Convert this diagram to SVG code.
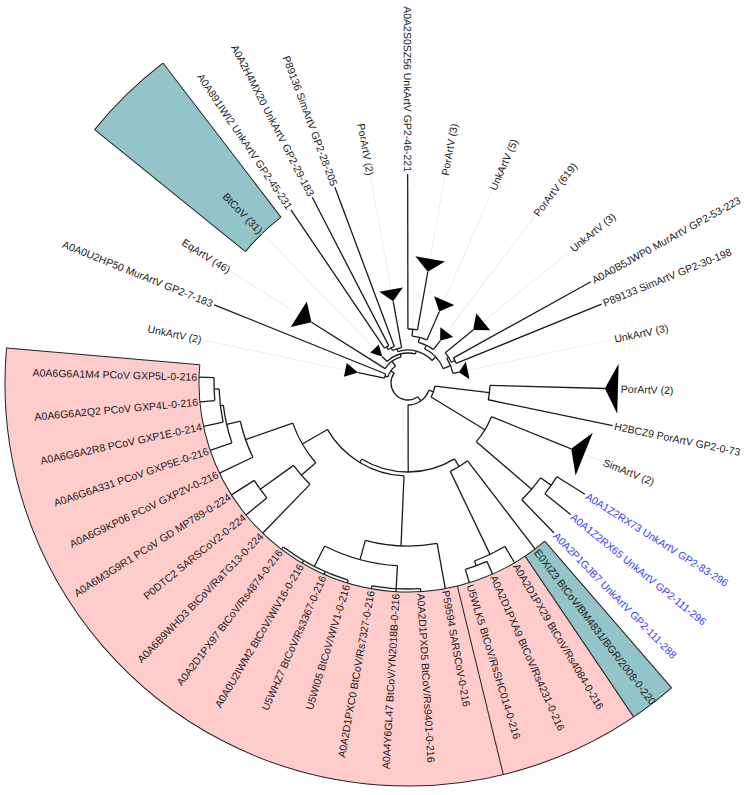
<svg xmlns="http://www.w3.org/2000/svg" width="752" height="795" viewBox="0 0 752 795">
<style>
.b{stroke:#1a1a1a;stroke-width:1.3;fill:none}
.o{stroke:#222;stroke-width:1;fill:none}
.gl{stroke:#eeeeee;stroke-width:1}
.t{font-family:"Liberation Sans",Arial,sans-serif;font-size:10.5px;fill:#1a1a1a}
.bl{fill:#3a3aff}
.tr{fill:#000}
.L{text-anchor:end}
</style>
<rect width="752" height="795" fill="#fff"/>
<g transform="translate(408,383) rotate(-1)">
<g id="regions" fill="none">
<circle r="306" stroke="#ffcccc" stroke-width="194" transform="rotate(77.32)" stroke-dasharray="580.37 3000"/>
<circle r="306" stroke="#ffcccc" stroke-width="194" transform="rotate(56.94)" stroke-dasharray="108.84 3000"/>
<circle r="306" stroke="#93c4c7" stroke-width="194" transform="rotate(50.15)" stroke-dasharray="36.26 3000"/>
<circle r="306" stroke="#93c4c7" stroke-width="194" transform="rotate(-140.04)" stroke-dasharray="72.58 3000"/>
<g class="o">
<circle r="209" transform="rotate(50.15)" stroke-dasharray="495.53 3000"/>
<circle r="403" transform="rotate(50.15)" stroke-dasharray="955.5 3000"/>
<line x1="209" x2="403" transform="rotate(185.996)"/>
<line x1="209" x2="403" transform="rotate(77.32)"/>
<line x1="209" x2="403" transform="rotate(56.94)"/>
<line x1="209" x2="403" transform="rotate(50.15)"/>
<circle r="209" transform="rotate(-140.04)" stroke-dasharray="49.57 3000"/>
<circle r="403" transform="rotate(-140.04)" stroke-dasharray="95.59 3000"/>
<line x1="209" x2="403" transform="rotate(-140.04)"/>
<line x1="209" x2="403" transform="rotate(-126.45)"/>
</g>
</g>
<g id="guides" class="gl">
<line x1="190" x2="209" transform="rotate(22.98)"/>
<line x1="61" x2="209" transform="rotate(-10.98)"/>
<line x1="97" x2="209" transform="rotate(-38.15)"/>
<line x1="64" x2="209" transform="rotate(-51.74)"/>
<line x1="90" x2="209" transform="rotate(-65.32)"/>
<line x1="126" x2="209" transform="rotate(-78.9)"/>
<line x1="95" x2="209" transform="rotate(-99.28)"/>
<line x1="48" x2="209" transform="rotate(-133.25)"/>
<line x1="129" x2="209" transform="rotate(-146.83)"/>
<line x1="64" x2="209" transform="rotate(-167.2)"/>
</g>
<g id="connectors" class="b">
<line x1="194" x2="209" transform="rotate(182.6)"/>
<line x1="194" x2="209" transform="rotate(175.81)"/>
<line x1="189" x2="209" transform="rotate(169.02)"/>
<line x1="186" x2="209" transform="rotate(162.22)"/>
<line x1="172" x2="209" transform="rotate(155.43)"/>
<line x1="182" x2="209" transform="rotate(148.64)"/>
<line x1="182" x2="209" transform="rotate(141.85)"/>
<line x1="141" x2="209" transform="rotate(135.05)"/>
<line x1="206" x2="209" transform="rotate(128.26)"/>
<line x1="206" x2="209" transform="rotate(121.47)"/>
<line x1="206" x2="209" transform="rotate(114.68)"/>
<line x1="206" x2="209" transform="rotate(107.88)"/>
<line x1="206" x2="209" transform="rotate(101.09)"/>
<line x1="206" x2="209" transform="rotate(94.3)"/>
<line x1="206" x2="209" transform="rotate(87.51)"/>
<line x1="163" x2="209" transform="rotate(80.72)"/>
<line x1="195" x2="209" transform="rotate(73.92)"/>
<line x1="195" x2="209" transform="rotate(67.13)"/>
<line x1="190" x2="209" transform="rotate(60.34)"/>
<line x1="98" x2="209" transform="rotate(53.55)"/>
<line x1="163" x2="209" transform="rotate(46.75)"/>
<line x1="176" x2="209" transform="rotate(39.96)"/>
<line x1="176" x2="209" transform="rotate(33.17)"/>
<line x1="90" x2="176" transform="rotate(22.98)"/>
<line x1="82" x2="209" transform="rotate(12.79)"/>
<line x1="82" x2="197" transform="rotate(2.6)"/>
<line x1="46" x2="52" transform="rotate(-10.98)"/>
<line x1="52" x2="209" transform="rotate(-21.17)"/>
<line x1="52" x2="209" transform="rotate(-27.96)"/>
<line x1="48" x2="84" transform="rotate(-38.15)"/>
<line x1="42" x2="53" transform="rotate(-51.74)"/>
<line x1="47" x2="78" transform="rotate(-65.32)"/>
<line x1="54" x2="113" transform="rotate(-78.9)"/>
<line x1="54" x2="209" transform="rotate(-89.09)"/>
<line x1="36" x2="83" transform="rotate(-99.28)"/>
<line x1="39" x2="209" transform="rotate(-109.47)"/>
<line x1="42" x2="209" transform="rotate(-116.26)"/>
<line x1="42" x2="209" transform="rotate(-123.06)"/>
<line x1="30" x2="37" transform="rotate(-133.25)"/>
<line x1="27" x2="114" transform="rotate(-146.83)"/>
<line x1="24" x2="209" transform="rotate(-157.02)"/>
<line x1="24" x2="51" transform="rotate(-167.2)"/>
<line x1="189" x2="194" transform="rotate(179.21)"/>
<line x1="186" x2="189" transform="rotate(174.11)"/>
<line x1="172" x2="186" transform="rotate(168.17)"/>
<line x1="122" x2="172" transform="rotate(161.8)"/>
<line x1="141" x2="182" transform="rotate(145.25)"/>
<line x1="122" x2="141" transform="rotate(140.15)"/>
<line x1="93" x2="122" transform="rotate(150.98)"/>
<line x1="183" x2="206" transform="rotate(118.07)"/>
<line x1="183" x2="206" transform="rotate(94.3)"/>
<line x1="163" x2="183" transform="rotate(106.19)"/>
<line x1="93" x2="163" transform="rotate(93.46)"/>
<line x1="89" x2="93" transform="rotate(122.22)"/>
<line x1="190" x2="195" transform="rotate(70.53)"/>
<line x1="98" x2="190" transform="rotate(65.43)"/>
<line x1="89" x2="98" transform="rotate(59.49)"/>
<line x1="22" x2="89" transform="rotate(90.86)"/>
<line x1="163" x2="176" transform="rotate(36.57)"/>
<line x1="90" x2="163" transform="rotate(41.66)"/>
<line x1="27" x2="90" transform="rotate(32.32)"/>
<line x1="27" x2="82" transform="rotate(7.7)"/>
<line x1="22" x2="27" transform="rotate(20.01)"/>
<line x1="17" x2="22" transform="rotate(55.44)"/>
<line x1="48" x2="52" transform="rotate(-24.57)"/>
<line x1="46" x2="48" transform="rotate(-31.36)"/>
<line x1="38" x2="46" transform="rotate(-21.17)"/>
<line x1="47" x2="54" transform="rotate(-84)"/>
<line x1="42" x2="47" transform="rotate(-74.66)"/>
<line x1="38" x2="42" transform="rotate(-63.2)"/>
<line x1="33" x2="38" transform="rotate(-42.19)"/>
<line x1="39" x2="42" transform="rotate(-119.66)"/>
<line x1="36" x2="39" transform="rotate(-114.57)"/>
<line x1="33" x2="36" transform="rotate(-106.93)"/>
<line x1="30" x2="33" transform="rotate(-74.56)"/>
<line x1="27" x2="30" transform="rotate(-103.9)"/>
<line x1="21" x2="27" transform="rotate(-125.37)"/>
<line x1="21" x2="24" transform="rotate(-162.11)"/>
<line x1="17" x2="21" transform="rotate(-143.74)"/>
<circle r="194" transform="rotate(175.81)" stroke-dasharray="22.99 2000"/>
<circle r="189" transform="rotate(169.02)" stroke-dasharray="33.61 2000"/>
<circle r="186" transform="rotate(162.22)" stroke-dasharray="38.6 2000"/>
<circle r="172" transform="rotate(155.43)" stroke-dasharray="38.24 2000"/>
<circle r="182" transform="rotate(141.85)" stroke-dasharray="21.57 2000"/>
<circle r="141" transform="rotate(135.05)" stroke-dasharray="25.1 2000"/>
<circle r="122" transform="rotate(140.15)" stroke-dasharray="46.1 2000"/>
<circle r="206" transform="rotate(107.88)" stroke-dasharray="73.27 2000"/>
<circle r="206" transform="rotate(87.51)" stroke-dasharray="48.83 2000"/>
<circle r="183" transform="rotate(94.3)" stroke-dasharray="75.92 2000"/>
<circle r="163" transform="rotate(80.72)" stroke-dasharray="72.46 2000"/>
<circle r="93" transform="rotate(93.46)" stroke-dasharray="93.36 2000"/>
<circle r="195" transform="rotate(67.13)" stroke-dasharray="23.11 2000"/>
<circle r="190" transform="rotate(60.34)" stroke-dasharray="33.79 2000"/>
<circle r="98" transform="rotate(53.55)" stroke-dasharray="20.32 2000"/>
<circle r="89" transform="rotate(59.49)" stroke-dasharray="97.44 2000"/>
<circle r="176" transform="rotate(33.17)" stroke-dasharray="20.86 2000"/>
<circle r="163" transform="rotate(36.57)" stroke-dasharray="28.96 2000"/>
<circle r="90" transform="rotate(22.98)" stroke-dasharray="29.34 2000"/>
<circle r="82" transform="rotate(2.6)" stroke-dasharray="14.58 2000"/>
<circle r="27" transform="rotate(7.7)" stroke-dasharray="11.6 2000"/>
<circle r="22" transform="rotate(20.01)" stroke-dasharray="27.2 2000"/>
<circle r="52" transform="rotate(-27.96)" stroke-dasharray="6.16 2000"/>
<circle r="48" transform="rotate(-38.15)" stroke-dasharray="11.38 2000"/>
<circle r="46" transform="rotate(-31.36)" stroke-dasharray="16.36 2000"/>
<circle r="54" transform="rotate(-89.09)" stroke-dasharray="9.6 2000"/>
<circle r="47" transform="rotate(-84)" stroke-dasharray="15.32 2000"/>
<circle r="42" transform="rotate(-74.66)" stroke-dasharray="16.8 2000"/>
<circle r="38" transform="rotate(-63.2)" stroke-dasharray="27.88 2000"/>
<circle r="42" transform="rotate(-123.06)" stroke-dasharray="4.98 2000"/>
<circle r="39" transform="rotate(-119.66)" stroke-dasharray="6.94 2000"/>
<circle r="36" transform="rotate(-114.57)" stroke-dasharray="9.61 2000"/>
<circle r="33" transform="rotate(-106.93)" stroke-dasharray="37.29 2000"/>
<circle r="30" transform="rotate(-133.25)" stroke-dasharray="30.73 2000"/>
<circle r="27" transform="rotate(-146.83)" stroke-dasharray="20.23 2000"/>
<circle r="24" transform="rotate(-167.2)" stroke-dasharray="4.26 2000"/>
<circle r="21" transform="rotate(-162.11)" stroke-dasharray="13.47 2000"/>
<circle r="17" transform="rotate(55.44)" stroke-dasharray="47.72 2000"/>
</g>
<g class="t">
<g id="A0A6G6A1M4"><text class="L" x="-211" dy="0.35em" transform="rotate(2.6)">A0A6G6A1M4 PCoV GXP5L-0-216</text></g>
<g id="A0A6G6A2Q2"><text class="L" x="-211" dy="0.35em" transform="rotate(-4.19)">A0A6G6A2Q2 PCoV GXP4L-0-216</text></g>
<g id="A0A6G6A2R8"><text class="L" x="-211" dy="0.35em" transform="rotate(-10.98)">A0A6G6A2R8 PCoV GXP1E-0-214</text></g>
<g id="A0A6G6A331"><text class="L" x="-211" dy="0.35em" transform="rotate(-17.78)">A0A6G6A331 PCoV GXP5E-0-216</text></g>
<g id="A0A6G9KP06"><text class="L" x="-211" dy="0.35em" transform="rotate(-24.57)">A0A6G9KP06 PCoV GXP2V-0-216</text></g>
<g id="A0A6M3G9R1"><text class="L" x="-211" dy="0.35em" transform="rotate(-31.36)">A0A6M3G9R1 PCoV GD MP789-0-224</text></g>
<g id="P0DTC2"><text class="L" x="-211" dy="0.35em" transform="rotate(-38.15)">P0DTC2 SARSCoV2-0-224</text></g>
<g id="A0A6B9WHD3"><text class="L" x="-211" dy="0.35em" transform="rotate(-44.95)">A0A6B9WHD3 BtCoV/RaTG13-0-224</text></g>
<g id="A0A2D1PX97"><text class="L" x="-211" dy="0.35em" transform="rotate(-51.74)">A0A2D1PX97 BtCoV/Rs4874-0-216</text></g>
<g id="A0A0U2IWM2"><text class="L" x="-211" dy="0.35em" transform="rotate(-58.53)">A0A0U2IWM2 BtCoV/WIV16-0-216</text></g>
<g id="U5WHZ7"><text class="L" x="-211" dy="0.35em" transform="rotate(-65.32)">U5WHZ7 BtCoV/Rs3367-0-216</text></g>
<g id="U5WI05"><text class="L" x="-211" dy="0.35em" transform="rotate(-72.12)">U5WI05 BtCoV/WIV1-0-216</text></g>
<g id="A0A2D1PXC0"><text class="L" x="-211" dy="0.35em" transform="rotate(-78.91)">A0A2D1PXC0 BtCoV/Rs7327-0-216</text></g>
<g id="A0A4Y6GL47"><text class="L" x="-211" dy="0.35em" transform="rotate(-85.7)">A0A4Y6GL47 BtCoV/YN2018B-0-216</text></g>
<g id="A0A2D1PXD5"><text x="211" dy="0.35em" transform="rotate(87.51)">A0A2D1PXD5 BtCoV/Rs9401-0-216</text></g>
<g id="P59594"><text x="211" dy="0.35em" transform="rotate(80.72)">P59594 SARSCoV-0-216</text></g>
<g id="U5WLK5"><text x="211" dy="0.35em" transform="rotate(73.92)">U5WLK5 BtCoV/RsSHC014-0-216</text></g>
<g id="A0A2D1PXA9"><text x="211" dy="0.35em" transform="rotate(67.13)">A0A2D1PXA9 BtCoV/Rs4231-0-216</text></g>
<g id="A0A2D1PX29"><text x="211" dy="0.35em" transform="rotate(60.34)">A0A2D1PX29 BtCoV/Rs4084-0-216</text></g>
<g id="E0XIZ3"><text x="211" dy="0.35em" transform="rotate(53.55)">E0XIZ3 BtCoV/BM4831/BGR/2008-0-220</text></g>
<g id="A0A2P1GJB7"><text class="bl" x="211" dy="0.35em" transform="rotate(46.75)">A0A2P1GJB7 UnkArtV GP2-111-288</text></g>
<g id="A0A1Z2RX65"><text class="bl" x="211" dy="0.35em" transform="rotate(39.96)">A0A1Z2RX65 UnkArtV GP2-111-296</text></g>
<g id="A0A1Z2RX73"><text class="bl" x="211" dy="0.35em" transform="rotate(33.17)">A0A1Z2RX73 UnkArtV GP2-83-296</text></g>
<g id="clade-SimArtV"><polygon class="tr" points="176,0 190,-23 190,23" transform="rotate(22.98)"/><text x="211" dy="0.35em" transform="rotate(22.98)">SimArtV (2)</text></g>
<g id="H2BCZ9"><text x="211" dy="0.35em" transform="rotate(12.79)">H2BCZ9 PorArtV GP2-0-73</text></g>
<g id="clade-PorArtV-a"><polygon class="tr" points="197,0 210,-25 210,25" transform="rotate(2.6)"/><text x="213" dy="0.35em" transform="rotate(2.6)">PorArtV (2)</text></g>
<g id="clade-UnkArtV-a"><polygon class="tr" points="52,0 61,-9 61,9" transform="rotate(-10.98)"/><text x="211" dy="0.35em" transform="rotate(-10.98)">UnkArtV (3)</text></g>
<g id="P89133"><text x="211" dy="0.35em" transform="rotate(-21.17)">P89133 SimArtV GP2-30-198</text></g>
<g id="A0A0B5JWP0"><text x="211" dy="0.35em" transform="rotate(-27.96)">A0A0B5JWP0 MurArtV GP2-53-223</text></g>
<g id="clade-UnkArtV-b"><polygon class="tr" points="84,0 97,-11 97,11" transform="rotate(-38.15)"/><text x="211" dy="0.35em" transform="rotate(-38.15)">UnkArtV (3)</text></g>
<g id="clade-PorArtV-619"><polygon class="tr" points="53,0 64,-8 64,8" transform="rotate(-51.74)"/><text x="211" dy="0.35em" transform="rotate(-51.74)">PorArtV (619)</text></g>
<g id="clade-UnkArtV-5"><polygon class="tr" points="78,0 90,-11 90,11" transform="rotate(-65.32)"/><text x="211" dy="0.35em" transform="rotate(-65.32)">UnkArtV (5)</text></g>
<g id="clade-PorArtV-3"><polygon class="tr" points="113,0 126,-15 126,15" transform="rotate(-78.9)"/><text x="211" dy="0.35em" transform="rotate(-78.9)">PorArtV (3)</text></g>
<g id="A0A2S0SZ56"><text class="L" x="-211" dy="0.35em" transform="rotate(90.91)">A0A2S0SZ56 UnkArtV GP2-46-221</text></g>
<g id="clade-PorArtV-b"><polygon class="tr" points="83,0 95,-12 95,12" transform="rotate(-99.28)"/><text class="L" x="-211" dy="0.35em" transform="rotate(80.72)">PorArtV (2)</text></g>
<g id="P89136"><text class="L" x="-211" dy="0.35em" transform="rotate(70.53)">P89136 SimArtV GP2-28-205</text></g>
<g id="A0A2H4MX20"><text class="L" x="-211" dy="0.35em" transform="rotate(63.74)">A0A2H4MX20 UnkArtV GP2-29-183</text></g>
<g id="A0A891IWI2"><text class="L" x="-211" dy="0.35em" transform="rotate(56.94)">A0A891IWI2 UnkArtV GP2-45-231</text></g>
<g id="clade-BtCoV"><polygon class="tr" points="37,0 48,-6 48,6" transform="rotate(-133.25)"/><text class="L" x="-211" dy="0.35em" transform="rotate(46.75)">BtCoV (31)</text></g>
<g id="clade-EqArtV"><polygon class="tr" points="114,0 129,-15 129,15" transform="rotate(-146.83)"/><text class="L" x="-211" dy="0.35em" transform="rotate(33.17)">EqArtV (46)</text></g>
<g id="A0A0U2HP50"><text class="L" x="-211" dy="0.35em" transform="rotate(22.98)">A0A0U2HP50 MurArtV GP2-7-183</text></g>
<g id="clade-UnkArtV-2"><polygon class="tr" points="51,0 64,-7 64,7" transform="rotate(-167.2)"/><text class="L" x="-211" dy="0.35em" transform="rotate(12.8)">UnkArtV (2)</text></g>
</g>
</g>
</svg>
